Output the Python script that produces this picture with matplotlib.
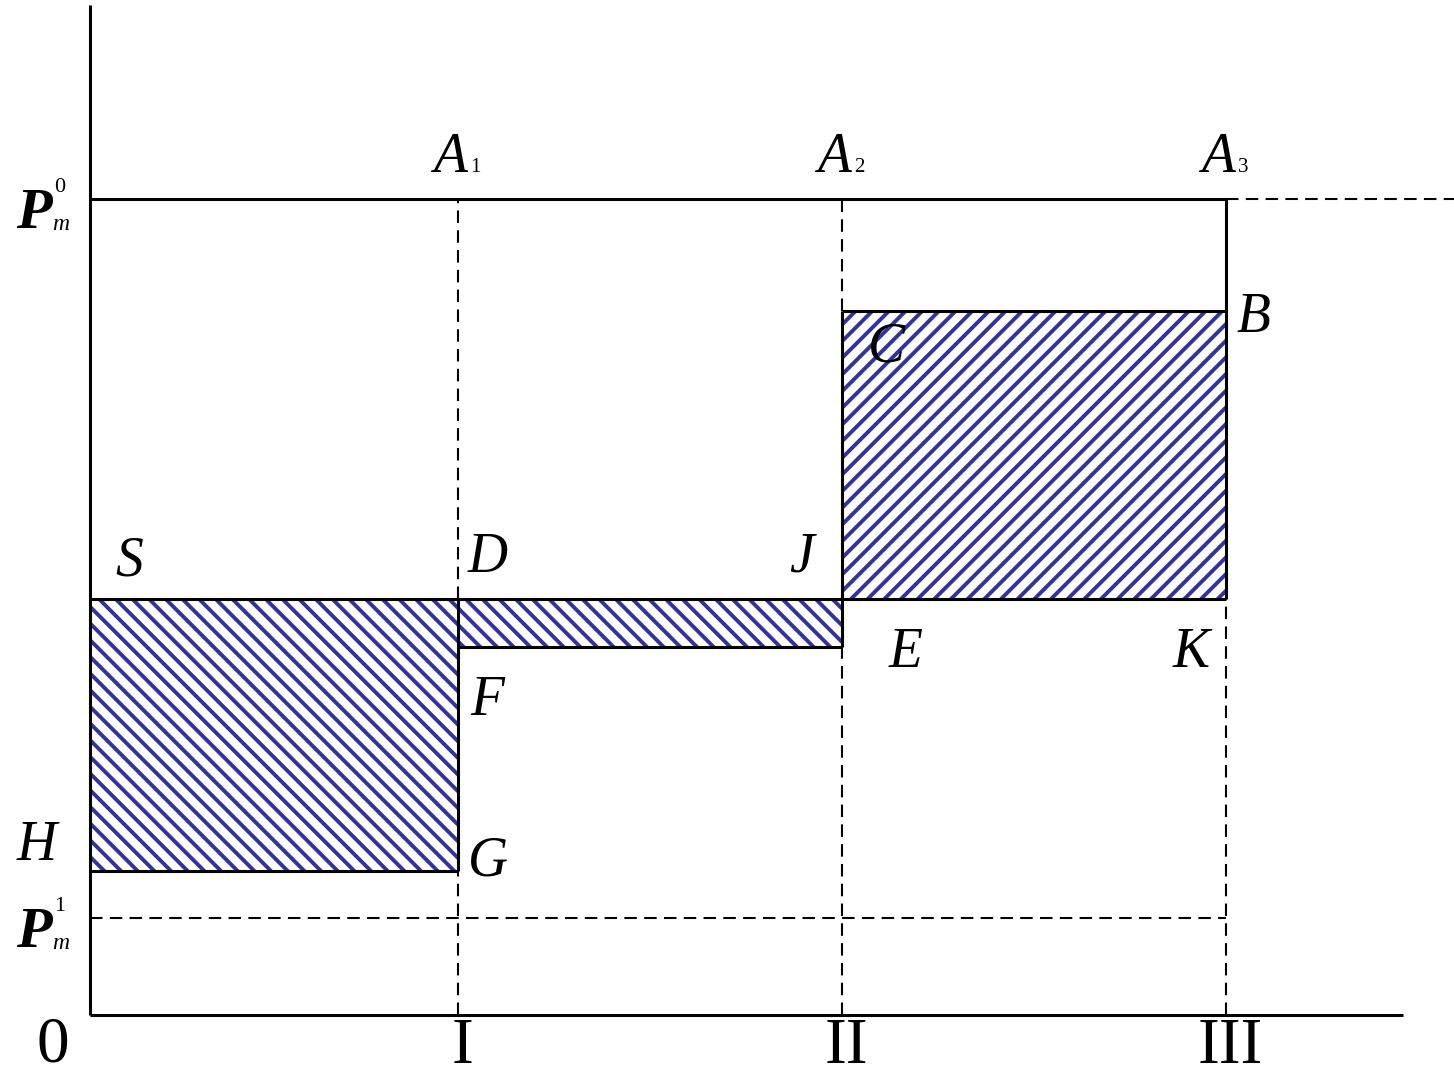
import matplotlib
matplotlib.use('Agg')
from matplotlib import pyplot
from matplotlib.patches import Rectangle

pyplot.rcParams['hatch.linewidth'] = 2.8

# quantity levels (x) and price levels (y), in drawing units from the origin
q_levels = [368, 752, 1136]
q_labels = ['I', 'II', 'III']
p0 = 816      # P_m^0
p_b = 704     # B / C
p_s = 416     # S, D, J, E, K
p_f = 368     # F
p_g = 144     # H, G
p1 = 97       # P_m^1
x_end = 1313
y_end = 1010

navy = '#33339a'
serif = 'Liberation Serif'

fig = pyplot.figure(figsize=(14.54, 10.76), dpi=100)
ax = fig.add_axes([0, 0, 1, 1])
ax.set_xlim(-90, 1364)
ax.set_ylim(-61, 1015)
ax.axis('off')

q1, q2, q3 = q_levels

# hatched areas
ax.add_patch(Rectangle((0, p_g), q1, p_s - p_g, facecolor='white', edgecolor=navy, lw=0, hatch='\\\\'))
ax.add_patch(Rectangle((q1, p_f), q2 - q1, p_s - p_f, facecolor='white', edgecolor=navy, lw=0, hatch='\\\\'))
ax.add_patch(Rectangle((q2, p_s), q3 - q2, p_b - p_s, facecolor='white', edgecolor=navy, lw=0, hatch='//'))

solid = dict(color='black', lw=2.2, solid_capstyle='butt')
dash = dict(color='black', lw=1.5, linestyle=(0, (6, 3.5)))

# axes
ax.plot([0, 0], [0, y_end], **solid)
ax.plot([0, x_end], [0, 0], **solid)

# dashed guides
ax.plot([q3, 1364], [p0, p0], **dash)
ax.plot([0, q3], [p1, p1], **dash)
ax.plot([q1, q1], [0, p_g], **dash)
ax.plot([q1, q1], [p_s, p0], **dash)
ax.plot([q2, q2], [0, p_f], **dash)
ax.plot([q2, q2], [p_b, p0], **dash)
ax.plot([q3, q3], [0, p_s], **dash)

# solid outlines
ax.plot([0, q3], [p0, p0], **solid)
ax.plot([q3, q3], [p_s, p0], **solid)
ax.plot([q2, q3], [p_b, p_b], **solid)
ax.plot([q2, q2], [p_f, p_b], **solid)
ax.plot([0, q3], [p_s, p_s], **solid)
ax.plot([q1, q2], [p_f, p_f], **solid)
ax.plot([q1, q1], [p_g, p_s], **solid)
ax.plot([0, q1], [p_g, p_g], **solid)

it = dict(family=serif, style='italic', fontsize=40, color='black')
rm = dict(family=serif, fontsize=47, color='black')

# point labels
for lab, x, y in [('S', 25, 440), ('D', 378, 443), ('J', 699, 443),
                  ('C', 778, 653), ('B', 1146, 683), ('E', 799, 348),
                  ('K', 1083, 348), ('F', 380, 300), ('H', -73, 155),
                  ('G', 378, 140)]:
    ax.text(x, y, lab, ha='left', va='baseline', **it)

# A labels with subscripts
for i, q in enumerate(q_levels):
    ax.text(q - 25, 843, 'A', ha='left', va='baseline', **it)
    ax.text(q + 12, 843, str(i + 1), ha='left', va='baseline', family=serif, fontsize=15)

# price labels
for sup, y in [('0', p0), ('1', p1)]:
    ax.text(-74, y - 29, 'P', ha='left', va='baseline', family=serif, style='italic',
            weight='bold', fontsize=42)
    ax.text(-36, y + 7, sup, ha='left', va='baseline', family=serif, fontsize=16)
    ax.text(-38, y - 31, 'm', ha='left', va='baseline', family=serif, style='italic', fontsize=17)

# quantity tick labels
ax.text(-37, -46, '0', ha='center', va='baseline', **rm)
for q, lab in zip(q_levels, q_labels):
    ax.text(q + 4, -48, lab, ha='center', va='baseline', **rm)

fig.savefig('out.png', dpi=100)
